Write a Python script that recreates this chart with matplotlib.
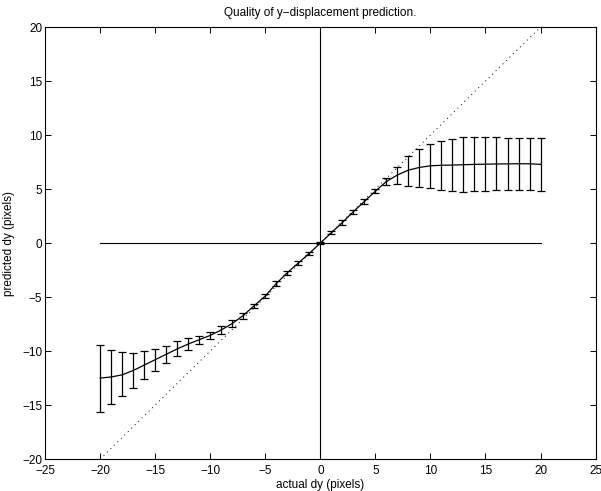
import numpy as np
import matplotlib
matplotlib.use("Agg")
import matplotlib.pyplot as plt

plt.rcParams.update({
    "font.family": ["Liberation Sans", "DejaVu Sans"],
    "font.size": 8.5,
    "axes.linewidth": 0.8,
})

# actual displacement (pixels)
actual_dy = list(range(-20, 21))

# mean predicted displacement
pred_mean = [-12.5, -12.4, -12.2, -11.8, -11.3, -10.8, -10.3, -9.8, -9.35, -8.95,
             -8.55, -8.05, -7.45, -6.7, -5.8, -4.9, -3.75, -2.75, -1.85, -0.95,
             0.0, 0.95, 1.9, 2.9, 3.85, 4.8, 5.7, 6.3, 6.75, 7.0,
             7.15, 7.2, 7.22, 7.25, 7.28, 7.3, 7.32, 7.33, 7.34, 7.34, 7.28]

# error bar top / bottom ends
bar_top = [-9.4, -9.9, -10.1, -10.2, -10.0, -9.8, -9.5, -9.1, -8.8, -8.6,
           -8.2, -7.7, -7.1, -6.45, -5.6, -4.7, -3.55, -2.55, -1.65, -0.8,
           0.1, 1.1, 2.1, 3.1, 4.05, 5.0, 6.0, 7.05, 8.1, 8.75,
           9.2, 9.45, 9.65, 9.8, 9.85, 9.8, 9.78, 9.75, 9.72, 9.7, 9.7]
bar_bottom = [-15.6, -14.9, -14.2, -13.4, -12.6, -11.85, -11.1, -10.5, -9.9, -9.35,
              -8.9, -8.4, -7.8, -7.0, -6.05, -5.1, -3.95, -2.95, -2.05, -1.1,
              -0.1, 0.8, 1.7, 2.7, 3.65, 4.6, 5.4, 5.45, 5.3, 5.2,
              5.1, 4.95, 4.8, 4.75, 4.8, 4.85, 4.88, 4.9, 4.93, 4.94, 4.86]

x_ticks = [-25, -20, -15, -10, -5, 0, 5, 10, 15, 20, 25]
y_ticks = [-20, -15, -10, -5, 0, 5, 10, 15, 20]

x = np.array(actual_dy, dtype=float)
m = np.array(pred_mean)
yerr = [m - np.array(bar_bottom), np.array(bar_top) - m]

fig = plt.figure(figsize=(6.01, 4.91), dpi=100)
ax = fig.add_axes([0.075, 0.065, 0.916, 0.88])

# reference lines
ax.plot([-20, 20], [-20, 20], color="black", linestyle=(0, (1, 4)), lw=0.7)
ax.plot([-20, 20], [0, 0], color="black", lw=0.8)
ax.plot([0, 0], [-20, 20], color="black", lw=0.8)

ax.errorbar(x, m, yerr=yerr, color="black", lw=0.9, elinewidth=0.9,
            capsize=3, capthick=0.9)

ax.set_xlim(-25, 25)
ax.set_ylim(-20, 20)
ax.set_xticks(x_ticks)
ax.set_yticks(y_ticks)
ax.tick_params(direction="in", top=True, right=True, length=4, width=0.7)
ax.tick_params(axis="x", pad=4)
ax.tick_params(axis="y", pad=2)

ax.set_title("Quality of y\u2212displacement prediction.", fontsize=8.5, pad=8)
ax.set_xlabel("actual dy (pixels)", labelpad=2)
ax.set_ylabel("predicted dy (pixels)", labelpad=5)

fig.savefig("out.png", dpi=100)
